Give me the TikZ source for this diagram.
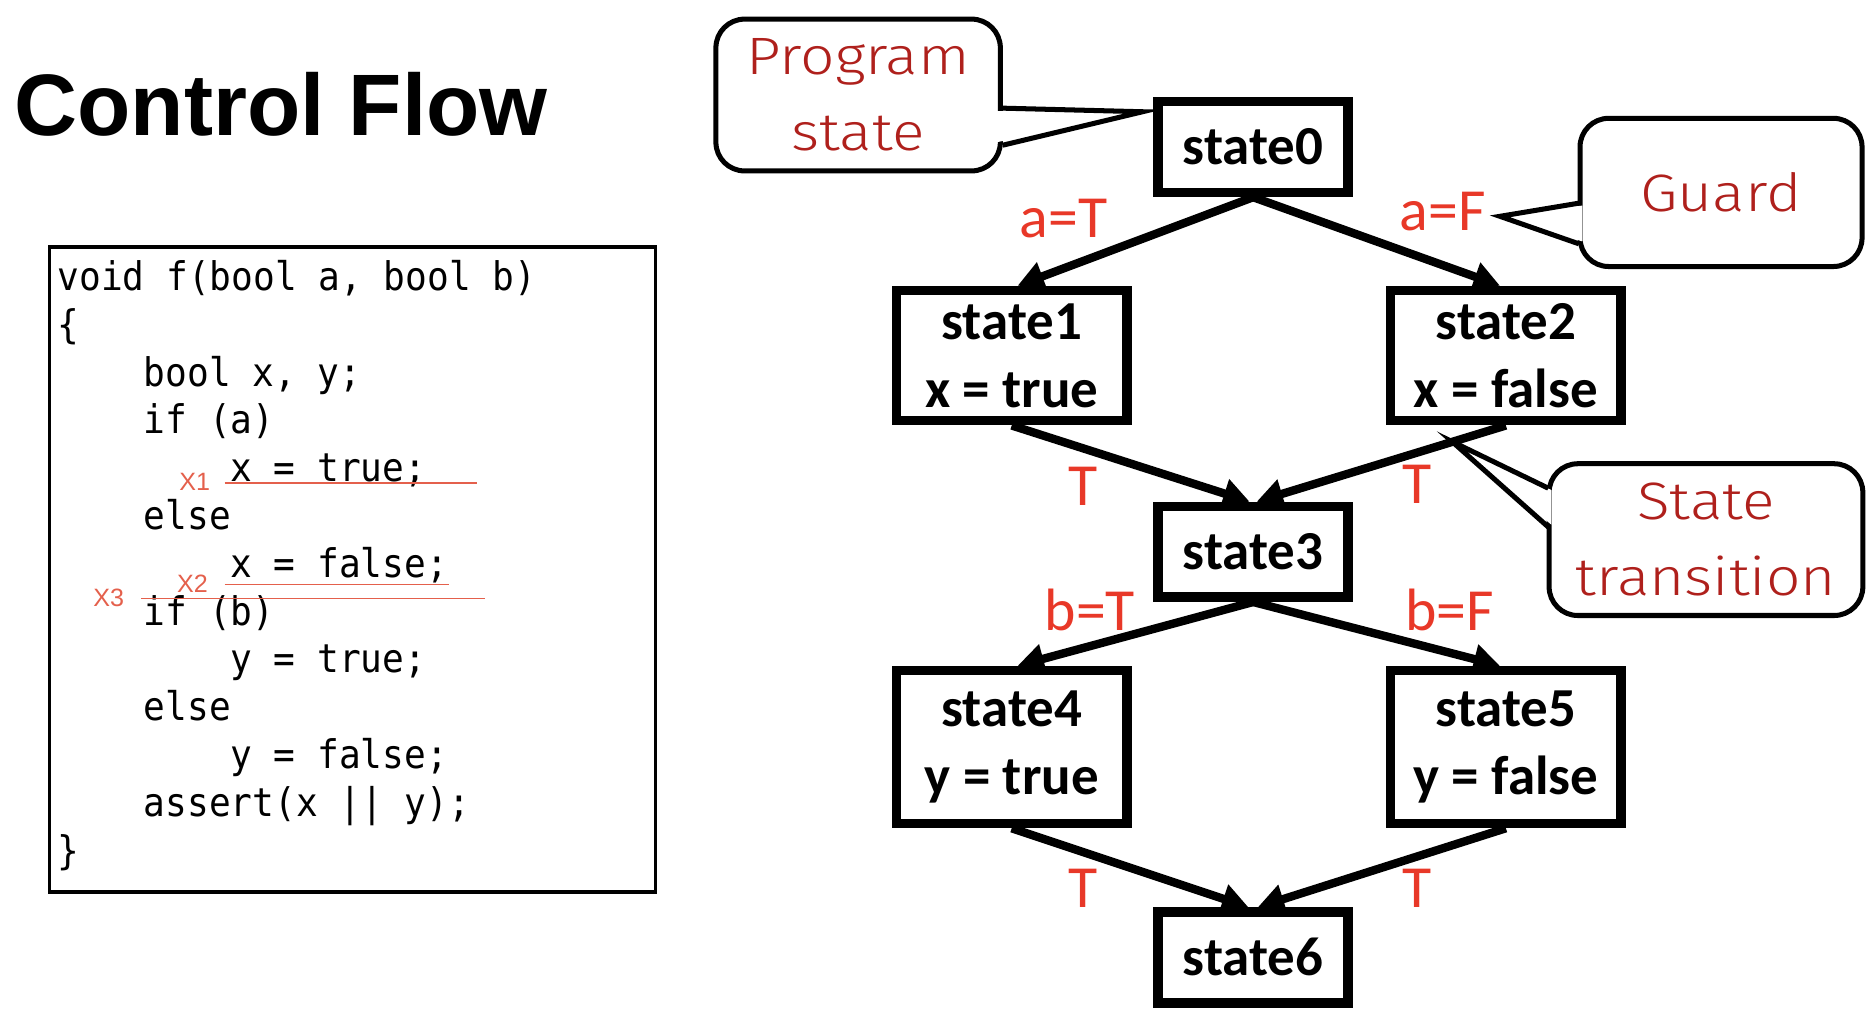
\documentclass[tikz,border=0pt]{standalone}
\usepackage{fontspec}
\setmainfont{Liberation Sans}
\newfontfamily\titlefont{Liberation Sans}
\newfontfamily\codefont{DejaVu Sans Mono}[FakeStretch=0.916]
\newfontfamily\calfont{Carlito}
\newfontfamily\handfont{Fira Sans}[UprightFont=* Light, FakeStretch=1.15]
\usetikzlibrary{arrows.meta}
\definecolor{lblred}{RGB}{232,56,40}
\definecolor{handred}{RGB}{175,32,28}
\definecolor{annred}{RGB}{228,96,76}
\begin{document}
\begin{tikzpicture}[x=1pt,y=-1pt,
  statebox/.style={draw, line width=8pt, inner sep=0pt, align=center,
    font={\calfont\bfseries\fontsize{46}{57}\selectfont}},
  flow/.style={line width=7pt, -{Triangle[length=22pt,width=24pt]}},
  lbl/.style={text=lblred, inner sep=0pt, font={\calfont\fontsize{50}{60}\selectfont}},
  callout/.style={draw, line width=4.2pt, rounded corners=24pt, fill=white, inner sep=0pt,
    align=center, text=handred, font={\handfont\fontsize{44}{64}\selectfont}},
  ptr/.style={line width=4.2pt, line join=miter},
  codeline/.style={anchor=base west, inner sep=0pt, font={\codefont\fontsize{33}{40}\selectfont}},
  ann/.style={text=annred, inner sep=0pt, font={\fontsize{21}{24}\selectfont}},
  annline/.style={draw=annred, line width=1.2pt}]
\useasboundingbox (0,0) rectangle (1568,853);
% title
\node[anchor=base west, inner sep=0pt, font={\titlefont\bfseries\fontsize{73}{80}\selectfont}] (title) at (12,113) {Control Flow};
% code box
\node[draw, line width=3pt, minimum width=507pt, minimum height=540pt, anchor=north west, inner sep=0pt] (codebox) at (40,205) {};
\node[codeline] (c0) at (48,243) {void f(bool a, bool b)};
\node[codeline] (c1) at (48,283) {\{};
\node[codeline] (c2) at (120.2,323) {bool x, y;};
\node[codeline] (c3) at (120.2,363) {if (a)};
\node[codeline] (c4) at (192.5,403) {x = true;};
\node[codeline] (c5) at (120.2,443) {else};
\node[codeline] (c6) at (192.5,483) {x = false;};
\node[codeline] (c7) at (120.2,523) {if (b)};
\node[codeline] (c8) at (192.5,563) {y = true;};
\node[codeline] (c9) at (120.2,603) {else};
\node[codeline] (c10) at (192.5,643) {y = false;};
\node[codeline] (c11) at (120.2,683) {assert(x || y);};
\node[codeline] (c12) at (48,723) {\}};
% annotations
\node[ann] (x1) at (163,403) {X1};
\node[ann] (x2) at (161,488) {X2};
\node[ann] (x3) at (91,500) {X3};
\draw[annline] (188,404) -- (399,404);
\draw[annline] (188,489) -- (376,489);
\draw[annline] (118,501) -- (406,501);
% states
\node[statebox, minimum width=159pt, minimum height=76pt] (s0) at (1048.5,123) {state0};
\node[statebox, minimum width=193pt, minimum height=109pt] (s1) at (846.5,297.5) {state1\\x = true};
\node[statebox, minimum width=193pt, minimum height=109pt] (s2) at (1260,297.5) {state2\\x = false};
\node[statebox, minimum width=159pt, minimum height=76pt] (s3) at (1048.5,461.7) {state3};
\node[statebox, minimum width=193pt, minimum height=128pt] (s4) at (846.5,625) {state4\\y = true};
\node[statebox, minimum width=193pt, minimum height=128pt] (s5) at (1260,625) {state5\\y = false};
\node[statebox, minimum width=159pt, minimum height=76pt] (s6) at (1048.5,801) {state6};
% edges
\draw[flow] (s0.south) -- ([xshift=5pt]s1.north);
\draw[flow] (s0.south) -- ([xshift=-5pt]s2.north);
\draw[flow] (s1.south) -- ([xshift=-3pt]s3.north);
\draw[flow] (s2.south) -- ([xshift=3pt]s3.north);
\draw[flow] (s3.south) -- ([xshift=5pt]s4.north);
\draw[flow] (s3.south) -- ([xshift=-5pt]s5.north);
\draw[flow] (s4.south) -- ([xshift=-4pt]s6.north);
\draw[flow] (s5.south) -- ([xshift=4pt]s6.north);
% labels
\node[lbl] (la) at (890,183) {a=T};
\node[lbl] (lb) at (1207,177) {a=F};
\node[lbl] (lc) at (906,407) {T};
\node[lbl] (ld) at (1186,405) {T};
\node[lbl] (le) at (912,510) {b=T};
\node[lbl] (lf) at (1213,510) {b=F};
\node[lbl] (lg) at (906,743) {T};
\node[lbl] (lh) at (1186,743) {T};
% callouts
\node[callout, minimum width=238pt, minimum height=127pt] (ps) at (718,79.5) {Program\\state};
\coordinate (pstip) at (956,93.5);
\fill[white] (834,93) -- (pstip) -- (834,119) -- cycle;
\draw[ptr] (839,90.5) -- (pstip) -- (839,121.5);
\node[callout, minimum width=236pt, minimum height=124pt] (gd) at (1440,161) {Guard};
\coordinate (gdtip) at (1255,181);
\fill[white] (1324,172) -- (gdtip) -- (1324,202) -- cycle;
\draw[ptr] (1321,170) -- (gdtip) -- (1321,204);
\node[callout, minimum width=262.5pt, minimum height=127pt] (st) at (1427.4,451.5) {State\\transition};
\coordinate (sttip) at (1215,369.5);
\fill[white] (1298,410) -- (sttip) -- (1298,439) -- cycle;
\draw[ptr] (1295.5,408.5) -- (sttip) -- (1295.5,441);
\end{tikzpicture}
\end{document}
